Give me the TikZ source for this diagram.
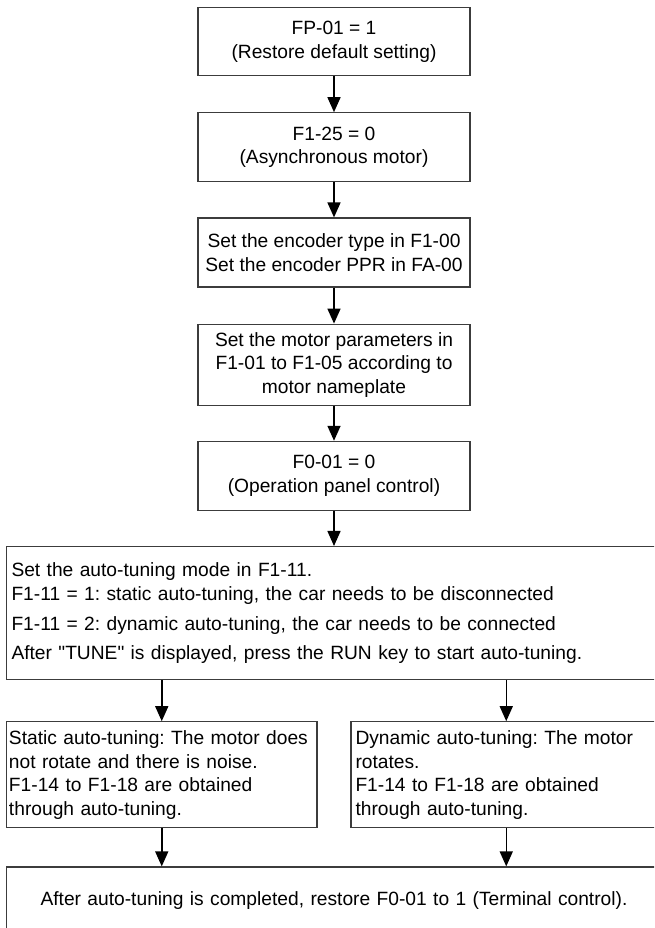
\documentclass[tikz,border=0pt]{standalone}
\usepackage{fontspec}
\setmainfont{Liberation Sans}
\usetikzlibrary{positioning,arrows.meta}
\definecolor{edgegray}{RGB}{60,60,60}

\begin{document}
\begin{tikzpicture}[
    x=1pt, y=1pt,
    font=\fontsize{19.2}{23.5}\selectfont\frenchspacing,
    block/.style={
        draw=edgegray,
        line width=1.2pt,
        inner sep=0pt,
        minimum width=272pt,
        minimum height=69pt,
        align=center
    },
    wide/.style={
        draw=edgegray,
        line width=1.2pt,
        inner xsep=5pt,
        inner ysep=0pt,
        text width=645pt,
        minimum height=133pt,
        align=left
    },
    half/.style={wide, inner xsep=2.5pt, text width=305.5pt, minimum height=106pt},
    arrow/.style={-{Triangle[length=15pt,width=13pt]}, line width=1.5pt}
]

\useasboundingbox (0,0) rectangle (654,928);
\clip (0,0) rectangle (654,928);

\node[block, minimum height=68pt, anchor=north] (fp) at (334,921)
    {FP-01 = 1\\(Restore default setting)};
\node[block, below=36pt of fp] (asyn) {F1-25 = 0\\(Asynchronous motor)};
\node[block, below=35pt of asyn] (enc)
    {Set the encoder type in F1-00\\Set the encoder PPR in FA-00};
\node[block, minimum height=81pt, below=36pt of enc] (params)
    {Set the motor parameters in\\F1-01 to F1-05 according to\\motor nameplate};
\node[block, below=35pt of params] (panel) {F0-01 = 0\\(Operation panel control)};

% tryb autotuningu
\node[wide, below=35pt of panel] (mode)
    {Set the auto-tuning mode in F1-11.\\
     F1-11 = 1: static auto-tuning, the car needs to be disconnected\\[7pt]
     F1-11 = 2: dynamic auto-tuning, the car needs to be connected\\[5pt]
     After \textquotedbl TUNE\textquotedbl{} is displayed, press the RUN key to start auto-tuning.};

\node[half, below right=41pt and 0pt of mode.south west] (static)
    {Static auto-tuning: The motor does\\not rotate and there is noise.\\
     F1-14 to F1-18 are obtained\\through auto-tuning.};
\node[half, inner xsep=4.5pt, text width=301.5pt,
    below left=41pt and 0pt of mode.south east] (dynamic)
    {Dynamic auto-tuning: The motor\\rotates.\\
     F1-14 to F1-18 are obtained\\through auto-tuning.};

\node[wide, align=center, minimum height=68pt,
    below right=38pt and 0pt of static.south west] (done)
    {After auto-tuning is completed, restore F0-01 to 1 (Terminal control).};

\draw[arrow] (fp) -- (asyn);
\draw[arrow] (asyn) -- (enc);
\draw[arrow] (enc) -- (params);
\draw[arrow] (params) -- (panel);
\draw[arrow] (panel) -- (mode);
\draw[arrow] (mode.south -| static) -- (static);
\draw[arrow] (mode.south -| dynamic) -- (dynamic);
\draw[arrow] (static) -- (static |- done.north);
\draw[arrow] (dynamic) -- (dynamic |- done.north);

\end{tikzpicture}
\end{document}
